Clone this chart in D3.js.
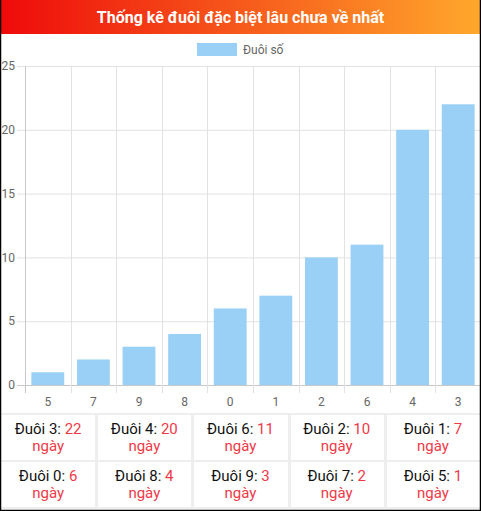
<!DOCTYPE html>
<html>
<head>
<meta charset="utf-8">
<script src="https://cdn.jsdelivr.net/npm/d3@7"></script>
<style>
  html, body { margin: 0; padding: 0; background: #fff; }
  svg { display: block; font-family: Roboto, "Noto Sans", sans-serif; }
</style>
</head>
<body>
<div id="container"></div>
<script>
/* DATA */
const title = "Thống kê đuôi đặc biệt lâu chưa về nhất";
const seriesName = "Đuôi số";
const categories = ["5", "7", "9", "8", "0", "1", "2", "6", "4", "3"];
const values = [1, 2, 3, 4, 6, 7, 10, 11, 20, 22];
const yTicks = [0, 5, 10, 15, 20, 25];
// table below the chart, read left to right, top to bottom
const tableDigits = ["3", "4", "6", "2", "1", "0", "8", "9", "7", "5"];
const tableDays = [22, 20, 11, 10, 7, 6, 4, 3, 2, 1];

/* CONSTANTS */
const width = 481, height = 511;
const plot = {left: 25, right: 481, top: 66, bottom: 385};
const red = "#ee3a47";

const svg = d3.select("#container").append("svg")
  .attr("width", width)
  .attr("height", height);

// title bar
const grad = svg.append("defs").append("linearGradient")
  .attr("id", "hdr").attr("x1", "0%").attr("x2", "100%");
grad.append("stop").attr("offset", "0%").attr("stop-color", "#ee0a0a");
grad.append("stop").attr("offset", "100%").attr("stop-color", "#ffa82c");
svg.append("rect").attr("x", 0).attr("y", 0).attr("width", width).attr("height", 34)
  .attr("fill", "url(#hdr)");
svg.append("text").attr("x", width / 2).attr("y", 17).attr("dy", "0.36em")
  .attr("text-anchor", "middle").attr("fill", "#fff")
  .style("font-size", "16px").style("font-weight", "bold")
  .text(title);

// legend
svg.append("rect").attr("x", 197).attr("y", 43).attr("width", 40).attr("height", 13)
  .attr("fill", "#9ad0f5");
svg.append("text").attr("x", 243).attr("y", 49.5).attr("dy", "0.35em")
  .attr("fill", "#666").style("font-size", "12px").text(seriesName);

/* SCALES */
const xScale = d3.scaleBand().domain(categories).range([plot.left, plot.right]);
const yScale = d3.scaleLinear().domain([0, 25]).range([plot.bottom, plot.top]);

// grid
svg.append("g").selectAll("line.hg").data(yTicks).join("line")
  .attr("x1", plot.left - 8).attr("x2", plot.right)
  .attr("y1", d => yScale(d) + 0.5).attr("y2", d => yScale(d) + 0.5)
  .attr("stroke", d => d === 0 ? "#c8c8c8" : "#e2e2e2");
const vx = categories.map(c => xScale(c)).concat([plot.right]);
svg.append("g").selectAll("line.vg").data(vx).join("line")
  .attr("x1", d => Math.round(d) + 0.5).attr("x2", d => Math.round(d) + 0.5)
  .attr("y1", plot.top).attr("y2", plot.bottom + 8)
  .attr("stroke", (d, i) => i === 0 ? "#c8c8c8" : "#e2e2e2");

// y labels
svg.append("g").selectAll("text").data(yTicks).join("text")
  .attr("x", 15).attr("y", d => yScale(d)).attr("dy", "0.35em")
  .attr("text-anchor", "end").attr("fill", "#666").style("font-size", "12px")
  .text(d => d);

// x labels
svg.append("g").selectAll("text").data(categories).join("text")
  .attr("x", d => xScale(d) + xScale.bandwidth() / 2).attr("y", 402).attr("dy", "0.35em")
  .attr("text-anchor", "middle").attr("fill", "#666").style("font-size", "12px")
  .text(d => d);

// bars
const bw = xScale.bandwidth() * 0.72;
svg.append("g").selectAll("rect").data(values).join("rect")
  .attr("x", (d, i) => xScale(categories[i]) + (xScale.bandwidth() - bw) / 2)
  .attr("y", d => yScale(d))
  .attr("width", bw)
  .attr("height", d => yScale(0) - yScale(d))
  .attr("fill", "#9ad0f5");

// table
const tTop = 414, rowH = 47, colW = width / 5;
const cells = tableDigits.map((d, i) => ({digit: d, days: tableDays[i], col: i % 5, row: Math.floor(i / 5)}));
const tg = svg.append("g");
[0, 1, 2].forEach(r => {
  tg.append("rect").attr("x", 0).attr("y", tTop + r * rowH - 1).attr("width", width).attr("height", 2)
    .attr("fill", "#eeeeee");
});
[1, 2, 3, 4].forEach(c => {
  tg.append("rect").attr("x", Math.round(c * colW) - 1).attr("y", tTop).attr("width", 3).attr("height", rowH * 2)
    .attr("fill", "#eeeeee");
});
const cell = tg.selectAll("g.cell").data(cells).join("g")
  .attr("transform", d => `translate(${d.col * colW + colW / 2},${tTop + d.row * rowH})`);
const line1 = cell.append("text").attr("y", 20).attr("text-anchor", "middle")
  .style("font-size", "15px");
line1.append("tspan").attr("fill", "#111").text(d => `Đuôi ${d.digit}: `);
line1.append("tspan").attr("fill", red).text(d => d.days);
cell.append("text").attr("y", 37).attr("text-anchor", "middle")
  .style("font-size", "15px").attr("fill", red).text("ngày");

// outer frame
svg.append("path").attr("d", `M0.5,0 V${height - 0.5} H${width - 0.5} V0`)
  .attr("fill", "none").attr("stroke", "#000").attr("stroke-width", 1.5);
</script>
</body>
</html>
